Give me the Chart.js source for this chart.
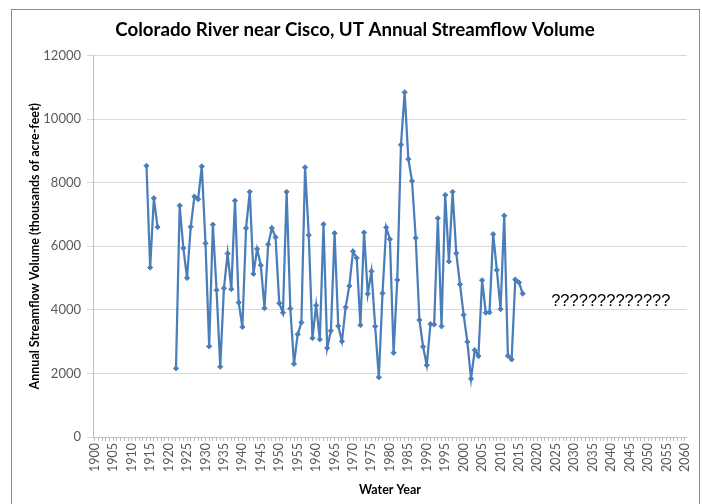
<!DOCTYPE html>
<html>
<head>
<meta charset="utf-8">
<script src="https://cdn.jsdelivr.net/npm/chart.js@4.4.1/dist/chart.umd.min.js"></script>
<style>
  html, body { margin: 0; padding: 0; background: #fff; overflow: hidden; }
  #wrap { position: relative; width: 702px; height: 504px; }
  #frame { position: absolute; left: 11px; top: 9px; width: 687px; height: 520px; border: 1px solid #8c8c8c; }
  canvas { position: absolute; left: 0; top: 0; }
</style>
</head>
<body>
<div id="wrap">
  <div id="frame"></div>
  <canvas id="chart" width="702" height="504"></canvas>
</div>
<script>
// x categories: every water year on the axis
const firstYear = 1900;
const lastYear = 2060;
const years = [];
for (let y = firstYear; y <= lastYear; y++) years.push(String(y));

// observed record starts in 1914, gap 1918-1921
const flowStart = 1914;
const flow = [
  8530, 5330, 7510, 6600, null, null, null, null, 2160, 7280, // 1914-1923
  5940, 5000, 6610, 7560, 7480, 8510, 6090, 2850, 6680, 4620, // 1924-1933
  2210, 4680, 5770, 4650, 7430, 4230, 3460, 6570, 7710, 5130, // 1934-1943
  5910, 5400, 4050, 6060, 6570, 6280, 4210, 3910, 7710, 4040, // 1944-1953
  2300, 3230, 3600, 8480, 6350, 3110, 4140, 3070, 6690, 2800, // 1954-1963
  3340, 6410, 3490, 3010, 4080, 4750, 5840, 5630, 3520, 6430, // 1964-1973
  4500, 5210, 3480, 1880, 4520, 6590, 6220, 2650, 4940, 9190, // 1974-1983
  10840, 8740, 8050, 6260, 3680, 2840, 2260, 3550, 3540, 6880, // 1984-1993
  3480, 7610, 5520, 7710, 5780, 4800, 3840, 2990, 1830, 2730, // 1994-2003
  2550, 4930, 3910, 3920, 6380, 5250, 4020, 6960, 2550, 2440, // 2004-2013
  4950, 4860, 4510                                            // 2014-2016
];

const yTicks = [0, 2000, 4000, 6000, 8000, 10000, 12000];

const noteText = '?????????????';
const noteYear = '2024';
const noteValue = 4250;

// lay the flow record onto the full year axis
const series = years.map((y) => {
  const i = Number(y) - flowStart;
  return i >= 0 && i < flow.length ? flow[i] : null;
});

const labelFont = 'Lato, "Liberation Sans", sans-serif';

const notePlugin = {
  id: 'note',
  afterDatasetsDraw(chart) {
    const ctx = chart.ctx;
    const x = chart.scales.x.getPixelForValue(years.indexOf(noteYear));
    const y = chart.scales.y.getPixelForValue(noteValue);
    ctx.save();
    ctx.font = '16.5px "Liberation Sans", Arial, sans-serif';
    ctx.fillStyle = '#000';
    ctx.textAlign = 'left';
    ctx.textBaseline = 'middle';
    ctx.fillText(noteText, x - 1, y);
    ctx.restore();
  }
};

new Chart(document.getElementById('chart').getContext('2d'), {
  type: 'line',
  data: {
    labels: years,
    datasets: [{
      data: series,
      borderColor: '#4a7ebb',
      backgroundColor: '#4a7ebb',
      borderWidth: 2.25,
      pointStyle: 'rectRot',
      pointRadius: 2.6,
      pointBorderWidth: 1,
      tension: 0,
      spanGaps: false
    }]
  },
  options: {
    responsive: false,
    animation: false,
    layout: { padding: { left: 22, right: 14, top: 10, bottom: 0 } },
    plugins: {
      legend: { display: false },
      tooltip: { enabled: false },
      title: {
        display: true,
        text: 'Colorado River near Cisco, UT Annual Streamflow Volume',
        color: '#000',
        font: { family: labelFont, size: 18.7, weight: 'bold' },
        padding: { top: 9, bottom: 14 }
      }
    },
    scales: {
      x: {
        type: 'category',
        offset: true,
        border: { color: '#bfbfbf' },
        grid: { drawOnChartArea: false, color: '#bfbfbf', tickLength: 4 },
        ticks: {
          autoSkip: false,
          minRotation: 90,
          maxRotation: 90,
          padding: 2,
          color: '#595959',
          font: { family: labelFont, size: 12.5 },
          callback: function (v) {
            const y = Number(years[v]);
            return y % 5 === 0 ? String(y) : '';
          }
        },
        title: {
          display: true,
          text: 'Water Year',
          color: '#000',
          font: { family: labelFont, size: 12.5, weight: 'bold' },
          padding: { top: 8, bottom: 7 }
        },
        afterFit: (s) => { s.height = 67; }
      },
      y: {
        min: 0,
        max: 12000,
        afterBuildTicks: (s) => { s.ticks = yTicks.map((v) => ({ value: v })); },
        border: { color: '#bfbfbf' },
        grid: { color: '#d9d9d9', tickLength: 6 },
        ticks: {
          color: '#595959',
          padding: 6,
          font: { family: labelFont, size: 13 },
          callback: (v) => String(v)
        },
        title: {
          display: true,
          text: 'Annual Streamflow Volume (thousands of acre-feet)',
          color: '#000',
          font: { family: labelFont, size: 12.5, weight: 'bold' },
          padding: { top: 5, bottom: 4 }
        },
        afterFit: (s) => { s.width = 71; }
      }
    }
  },
  plugins: [notePlugin]
});
</script>
</body>
</html>
